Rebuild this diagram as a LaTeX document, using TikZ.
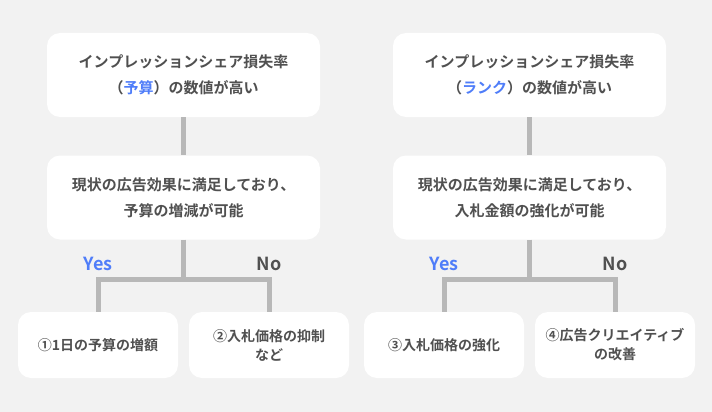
\documentclass[tikz,border=0pt]{standalone}
\usepackage{fontspec}
\setmainfont{Noto Sans CJK JP}[BoldFont={Noto Sans CJK JP Bold}]
\usepackage{tikz}
\definecolor{Back}{HTML}{F2F2F2}
\definecolor{Bar}{HTML}{B8B8B8}
\definecolor{Ink}{HTML}{505050}
\definecolor{Accent}{HTML}{4F7DF9}

\begin{document}
\begin{tikzpicture}[x=1pt,y=-1pt,
  card/.style={fill=white,rounded corners=13pt,text=Ink,align=center,inner sep=0pt},
  upper/.style={card,minimum width=273pt,minimum height=84pt,font=\bfseries\fontsize{15}{26}\selectfont},
  lower/.style={card,minimum width=160pt,minimum height=66pt,font=\bfseries\fontsize{14}{19}\selectfont},
  branch/.style={font=\bfseries\fontsize{18}{20}\selectfont},
  link/.style={draw=Bar,line width=5pt,line join=miter}]

\fill [Back] (0,0) rectangle (712,412);
\useasboundingbox (0,0) rectangle (712,412);

% left tree
\node [upper] (ltop) at (183.5,75) {インプレッションシェア損失率\\（\textcolor{Accent}{予算}）の数値が高い};
\node [upper] (lmid) at (183.5,197.5) {現状の広告効果に満足しており、\\予算の増減が可能};
\coordinate (ljoin) at (183.5,279.5);
\node [lower] (lyes) at (98,345) {①1日の予算の増額};
\node [lower] (lno) at (269,345) {②入札価格の抑制\\など};

\draw [link] (ltop.south) -- (lmid.north);
\draw [link] (lmid.south) -- (ljoin);
\draw [link] (lyes.north) -- (lyes.north |- ljoin) -- (lno.north |- ljoin) -- (lno.north);
\node [branch,text=Accent] (lyeslabel) at (98,264) {Yes};
\node [branch,text=Ink] (lnolabel) at (269,264) {No};

% right tree
\node [upper] (rtop) at (529.5,75) {インプレッションシェア損失率\\（\textcolor{Accent}{ランク}）の数値が高い};
\node [upper] (rmid) at (529.5,197.5) {現状の広告効果に満足しており、\\入札金額の強化が可能};
\coordinate (rjoin) at (529.5,279.5);
\node [lower] (ryes) at (444,345) {③入札価格の強化};
\node [lower] (rno) at (615,345) {④広告クリエイティブ\\の改善};

\draw [link] (rtop.south) -- (rmid.north);
\draw [link] (rmid.south) -- (rjoin);
\draw [link] (ryes.north) -- (ryes.north |- rjoin) -- (rno.north |- rjoin) -- (rno.north);
\node [branch,text=Accent] (ryeslabel) at (444,264) {Yes};
\node [branch,text=Ink] (rnolabel) at (615,264) {No};

\end{tikzpicture}
\end{document}
